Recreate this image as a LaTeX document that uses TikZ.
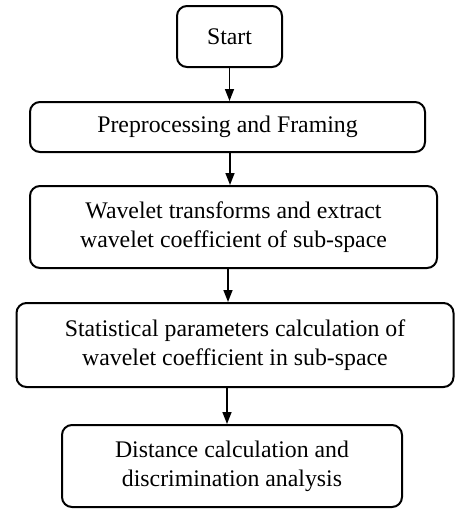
\documentclass[tikz,border=0pt]{standalone}
\usepackage{fontspec}
\setmainfont{Liberation Serif}
\usetikzlibrary{arrows.meta,calc}
\begin{document}
\begin{tikzpicture}[x=0.5pt,y=-0.5pt,
  box/.style={draw, line width=1pt, rounded corners=5pt, align=center, inner sep=0pt,
    font=\fontsize{11.9}{14.5}\selectfont},
  arr/.style={line width=0.8pt, -{Triangle[length=6pt,width=4.5pt]}}]
\useasboundingbox (0,0) rectangle (455,509);
\node[box, minimum width=52.5pt, minimum height=30.5pt] (start) at (229.5,36.5) {Start};
\node[box, minimum width=197.5pt, minimum height=25pt] (prep) at (227.5,127) {Preprocessing and Framing};
\node[box, minimum width=203.5pt, minimum height=41pt] (wave) at (233.5,227) {Wavelet transforms and extract\\wavelet coefficient of sub-space};
\node[box, minimum width=218.5pt, minimum height=42pt] (stat) at (235,345) {Statistical parameters calculation of\\wavelet coefficient in sub-space};
\node[box, minimum width=170pt, minimum height=41pt] (dist) at (232,466) {Distance calculation and\\discrimination analysis};
\draw[arr] (start.south) -- (start.south |- prep.north);
\draw[arr] ($(prep.south)+(2.5,0)$) -- ($(prep.south |- wave.north)+(2.5,0)$);
\draw[arr] ($(wave.south)+(-5.5,0)$) -- ($(wave.south |- stat.north)+(-5.5,0)$);
\draw[arr] ($(stat.south)+(-8,0)$) -- ($(stat.south |- dist.north)+(-8,0)$);
\end{tikzpicture}
\end{document}
